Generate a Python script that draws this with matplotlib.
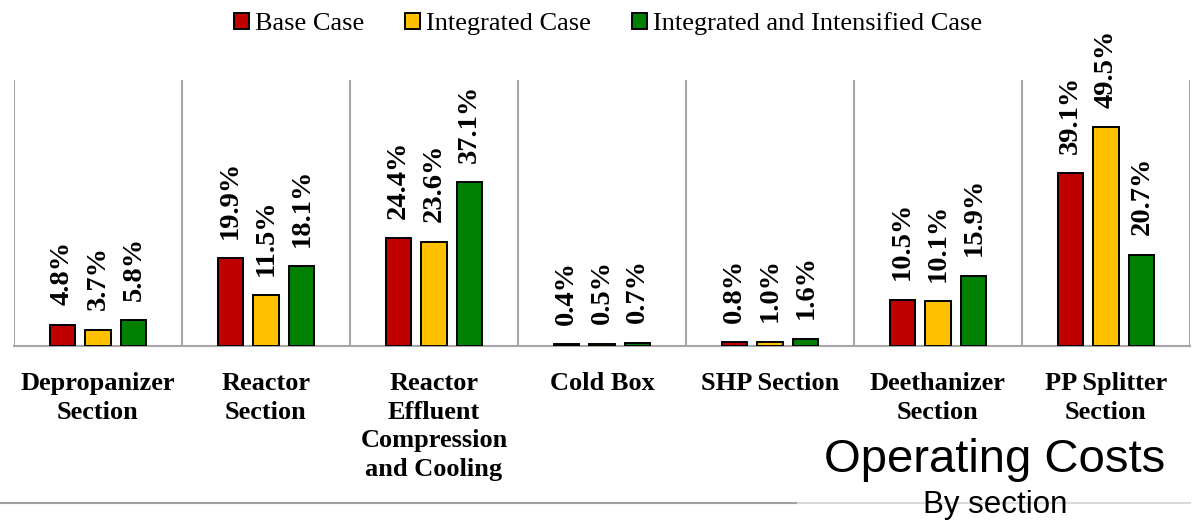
import matplotlib.pyplot as plt
import numpy as np
from matplotlib.patches import Patch

sections = ['Depropanizer\nSection', 'Reactor\nSection',
            'Reactor\nEffluent\nCompression\nand Cooling', 'Cold Box',
            'SHP Section', 'Deethanizer\nSection', 'PP Splitter\nSection']
base_case = [4.8, 19.9, 24.4, 0.4, 0.8, 10.5, 39.1]
integrated = [3.7, 11.5, 23.6, 0.5, 1.0, 10.1, 49.5]
intensified = [5.8, 18.1, 37.1, 0.7, 1.6, 15.9, 20.7]
case_names = ['Base Case', 'Integrated Case', 'Integrated and Intensified Case']
colors = ['#C00000', '#FFC000', '#008000']

serif = 'Liberation Serif'
sans = 'Liberation Sans'

fig = plt.figure(figsize=(11.94, 5.22), dpi=100)
ax = fig.add_axes([14 / 1194, 176 / 522, 1176 / 1194, 266 / 522])

x = np.arange(len(sections))
offsets = [-0.213, 0.0, 0.213]
width = 0.15
for vals, off, col in zip([base_case, integrated, intensified], offsets, colors):
    bars = ax.bar(x + off, vals, width, color=col, edgecolor='black', linewidth=1.4, zorder=3)
    for b, v in zip(bars, vals):
        ax.annotate(f'{v:.1f}%', (b.get_x() + b.get_width() / 2, v),
                    xytext=(0, 14), textcoords='offset points', rotation=90,
                    ha='center', va='bottom', fontsize=20.5, fontweight='bold',
                    family=serif)

# group separators
for sep in np.arange(-0.5, len(sections), 1.0):
    ax.axvline(sep, color='#A6A6A6', linewidth=1.5, zorder=1)

ax.set_xlim(-0.5, len(sections) - 0.5)
ax.set_ylim(0, 60.2)
ax.set_yticks([])
ax.set_xticks(x)
ax.set_xticklabels(sections, fontsize=19, fontweight='bold', family=serif, linespacing=1.3)
ax.tick_params(axis='x', length=0, pad=19)
for s in ['top', 'left', 'right']:
    ax.spines[s].set_visible(False)
ax.spines['bottom'].set_color('#A6A6A6')
ax.spines['bottom'].set_linewidth(1.5)

handles = [Patch(facecolor=c, edgecolor='black', linewidth=1.4) for c in colors]
fig.legend(handles, case_names, loc='center', bbox_to_anchor=(608 / 1194, 1 - 24 / 522),
           ncol=3, frameon=False, prop={'family': serif, 'size': 19},
           handlelength=0.58, handleheight=0.58, handletextpad=0.22,
           columnspacing=1.55, borderaxespad=0)

# bottom rule, lighter under the title
fig.add_artist(plt.Line2D([0, 798 / 1194], [1 - 503 / 522] * 2, color='#A0A0A0', linewidth=1.5))
fig.add_artist(plt.Line2D([798 / 1194, 1190 / 1194], [1 - 503 / 522] * 2, color='#D9D9D9', linewidth=1.5))

fig.text(995 / 1194, 1 - 460 / 522, 'Operating Costs', family=sans, fontsize=34,
         ha='center', va='center')
fig.text(995 / 1194, 1 - 505 / 522, 'By section', family=sans, fontsize=22.5,
         ha='center', va='center')

fig.savefig('out.png', dpi=100)
